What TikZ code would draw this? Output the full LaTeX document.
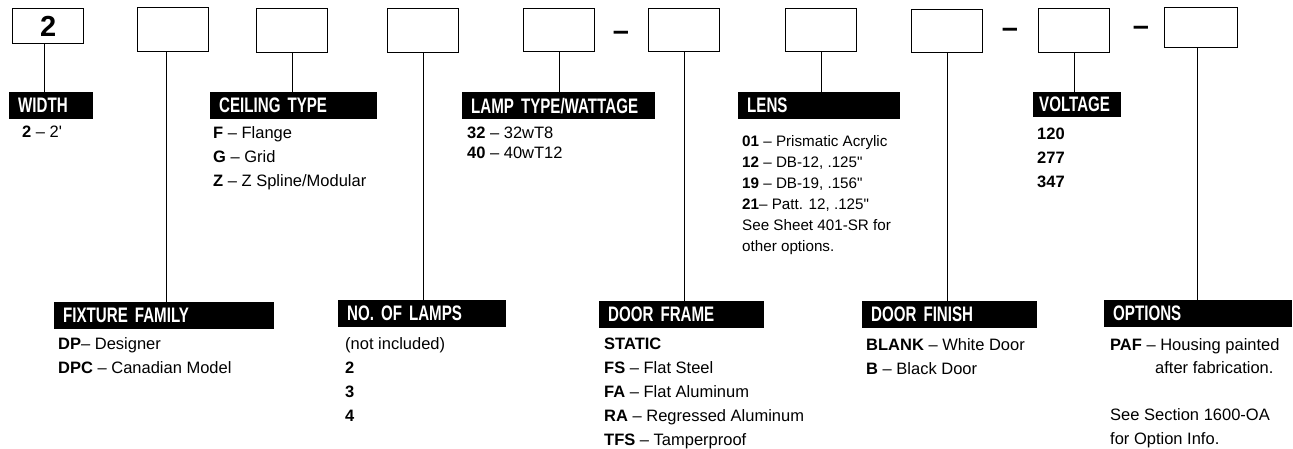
\documentclass[tikz,border=0pt]{standalone}
\usepackage{fontspec}
\setmainfont{Liberation Sans}[Ligatures=TeXOff]
\newfontfamily\barfont[FakeStretch=0.72]{Liberation Sans}
\usepackage{tikz}
\usetikzlibrary{positioning}

\begin{document}
\begin{tikzpicture}[x=1pt, y=-1pt,
    cbox/.style = {draw, line width=1.2pt, anchor=north west, minimum width=71pt, minimum height=44pt, inner sep=0pt},
    bar/.style = {fill=black, text=white, anchor=north west, minimum height=27pt, inner xsep=9pt, inner ysep=0pt, align=left, font=\barfont\bfseries\fontsize{21}{21}\selectfont},
    opt/.style = {anchor=north west, inner sep=0pt, align=left, font=\fontsize{16.5}{24}\selectfont},
    sep/.style = {inner sep=0pt, font=\bfseries\fontsize{29}{29}\selectfont},
    link/.style = {line width=1.1pt}]
    \useasboundingbox (0,0) rectangle (1293,449);

    % 方框
    \node[cbox, minimum height=35pt, font=\bfseries\fontsize{29}{29}\selectfont] (b1) at (12,8) {2};
    \node[cbox] (b2) at (137,7) {};
    \node[cbox] (b3) at (256,8) {};
    \node[cbox] (b4) at (387,8) {};
    \node[cbox, minimum height=43pt] (b5) at (523,8) {};
    \node[cbox, minimum height=43pt] (b6) at (648,8) {};
    \node[cbox, minimum height=43pt] (b7) at (785,8) {};
    \node[cbox, minimum height=43pt] (b8) at (911,9) {};
    \node[cbox] (b9) at (1038,8) {};
    \node[cbox, minimum width=73pt, minimum height=40pt] (b10) at (1164,7) {};
    \node[sep] (s1) at (621,36) {–};
    \node[sep] (s2) at (1010,33) {–};
    \node[sep] (s3) at (1141,31) {–};

    % 标签
    \node[bar, text width=66pt] (wid) at (9,92) {WIDTH};
    \node[bar, text width=149pt] (ceil) at (210,92) {CEILING TYPE};
    \node[bar, text width=175pt] (lamp) at (462,92) {LAMP TYPE/WATTAGE};
    \node[bar, text width=144pt] (lens) at (738,92) {LENS};
    \node[bar, text width=76pt, inner xsep=6pt, minimum height=25pt] (volt) at (1033,92) {VOLTAGE};
    \node[bar, text width=202pt] (fam) at (54,302) {FIXTURE FAMILY};
    \node[bar, text width=150pt] (num) at (338,300) {NO. OF LAMPS};
    \node[bar, text width=147pt] (frame) at (599,301) {DOOR FRAME};
    \node[bar, text width=157pt] (finish) at (862,301) {DOOR FINISH};
    \node[bar, text width=170pt] (extra) at (1104,300) {OPTIONS};

    % 选项
    \node[opt] (widl) at (22,126) {\textbf{2} – 2'};
    \node[opt] (ceill) at (213,126) {\textbf{F} – Flange\\\textbf{G} – Grid\\\textbf{Z} – Z Spline/Modular};
    \node[opt, font=\fontsize{16.5}{19.5}\selectfont] (lampl) at (467,127) {\textbf{32} – 32wT8\\\textbf{40} – 40wT12};
    \node[opt, font=\fontsize{15.2}{21}\selectfont] (lensl) at (742,135) {\textbf{01} – Prismatic Acrylic\\\textbf{12} – DB-12, .125"\\\textbf{19} – DB-19, .156"\\\textbf{21}– Patt. 12, .125"\\See Sheet 401-SR for\\other options.};
    \node[opt] (voltl) at (1037,128) {\textbf{120}\\\textbf{277}\\\textbf{347}};
    \node[opt] (faml) at (58,337) {\textbf{DP}– Designer\\\textbf{DPC} – Canadian Model};
    \node[opt] (numl) at (345,337) {(not included)\\\textbf{2}\\\textbf{3}\\\textbf{4}};
    \node[opt] (framel) at (604,338) {\textbf{STATIC}\\\textbf{FS} – Flat Steel\\\textbf{FA} – Flat Aluminum\\\textbf{RA} – Regressed Aluminum\\\textbf{TFS} – Tamperproof};
    \node[opt] (finishl) at (866,338) {\textbf{BLANK} – White Door\\\textbf{B} – Black Door};
    \node[opt, font=\fontsize{16.5}{23.5}\selectfont] (extral) at (1110,338) {\textbf{PAF} – Housing painted\\\hspace*{45pt}after fabrication.\\[23.5pt]See Section 1600-OA\\for Option Info.};

    % 连线
    \draw[link] ([xshift=-4pt]b1.south) -- ([xshift=-4pt]b1.south |- wid.north);
    \draw[link] ([xshift=-7pt]b2.south) -- ([xshift=-7pt]b2.south |- fam.north);
    \draw[link] (b3.south) -- (b3.south |- ceil.north);
    \draw[link] (b4.south) -- (b4.south |- num.north);
    \draw[link] (b5.south) -- (b5.south |- lamp.north);
    \draw[link] (b6.south) -- (b6.south |- frame.north);
    \draw[link] (b7.south) -- (b7.south |- lens.north);
    \draw[link] (b8.south) -- (b8.south |- finish.north);
    \draw[link] (b9.south) -- (b9.south |- volt.north);
    \draw[link] ([xshift=-4pt]b10.south) -- ([xshift=-4pt]b10.south |- extra.north);
\end{tikzpicture}
\end{document}
